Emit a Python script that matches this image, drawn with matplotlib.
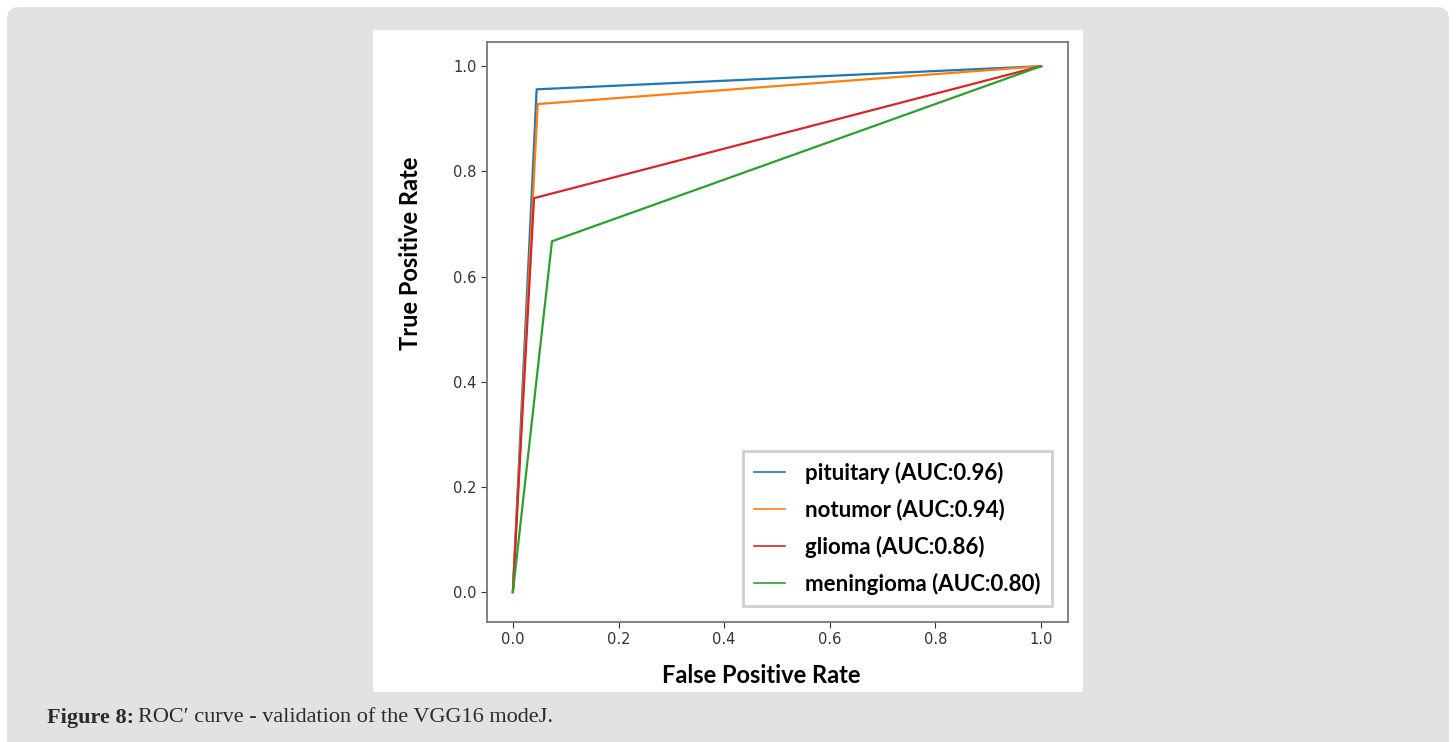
import numpy as np
import matplotlib
matplotlib.use('Agg')
from matplotlib import pyplot as plt
from matplotlib.patches import FancyBboxPatch, Rectangle

# ROC points
classes = ['pituitary', 'notumor', 'glioma', 'meningioma']
auc_vals = [0.96, 0.94, 0.86, 0.80]
fpr_pts = [[0.0, 0.045, 1.0],
           [0.0, 0.047, 1.0],
           [0.0, 0.040, 1.0],
           [0.0, 0.074, 1.0]]
tpr_pts = [[0.0, 0.956, 1.0],
           [0.0, 0.928, 1.0],
           [0.0, 0.749, 1.0],
           [0.0, 0.667, 1.0]]
colors = ['#1f77b4', '#ff7f0e', '#d62728', '#2ca02c']
ticks = [0.0, 0.2, 0.4, 0.6, 0.8, 1.0]

W, H = 1456, 742
fig = plt.figure(figsize=(W / 100, H / 100), dpi=100)
fig.patch.set_facecolor('white')

# page background: gray rounded box and white chart panel
bg = fig.add_axes([0, 0, 1, 1])
bg.set_xlim(0, W)
bg.set_ylim(H, 0)
bg.axis('off')
bg.add_patch(FancyBboxPatch((7, 7), W - 14, H + 20, boxstyle='round,pad=0,rounding_size=12',
                            fc='#e2e2e2', ec='none', mutation_aspect=1))
bg.add_patch(Rectangle((373, 30), 710, 662, fc='white', ec='none'))
bg.text(47, 718, 'Figure 8:', fontsize=16, fontweight='bold', family='Liberation Serif',
        va='center', ha='left', color='#2a2a2a')
bg.text(138, 718, 'ROC\u2032 curve - validation of the VGG16 modeJ.', fontsize=16,
        family='Liberation Serif', va='center', ha='left', color='#2a2a2a')

ax = fig.add_axes([487 / W, 1 - 622 / H, (1068 - 487) / W, (622 - 42) / H])
for i in range(len(classes)):
    ax.plot(fpr_pts[i], tpr_pts[i], color=colors[i], lw=1.6,
            label='%s (AUC:%.2f)' % (classes[i], auc_vals[i]))

ax.set_xlim(-0.049, 1.051)
ax.set_ylim(-0.057, 1.046)
ax.set_xticks(ticks)
ax.set_yticks(ticks)
ax.tick_params(labelsize=10.5, colors='#333333', length=4)
for s in ax.spines.values():
    s.set_color('#777777')
    s.set_linewidth(1.3)

ax.set_xlabel('False Positive Rate', fontsize=17, fontweight='bold', family='Lato')
ax.set_ylabel('True Positive Rate', fontsize=17, fontweight='bold', family='Lato')
ax.xaxis.label.set_verticalalignment('center')
ax.yaxis.label.set_verticalalignment('center')
ax.xaxis.set_label_coords(0.4716, -0.0914)
ax.yaxis.set_label_coords(-0.1325, 0.636)

leg = ax.legend(loc='lower right', prop={'family': 'Lato', 'weight': 'bold', 'size': 16},
                fancybox=False, edgecolor='#c4c4c4', handlelength=1.4, handletextpad=0.9,
                labelspacing=0.68, borderpad=0.5, borderaxespad=0.72)
leg.get_frame().set_linewidth(2)
for h in leg.get_lines():
    h.set_linewidth(1.2)

plt.savefig('out.png', dpi=100)
